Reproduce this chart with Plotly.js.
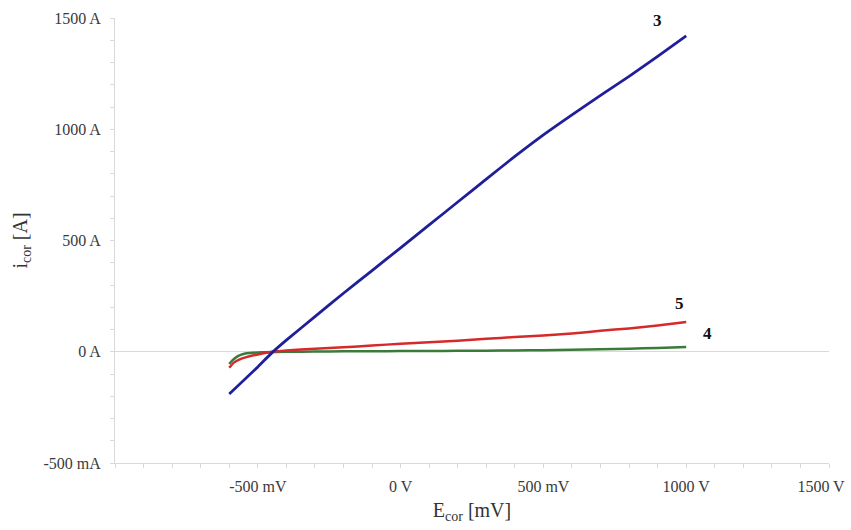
<!DOCTYPE html>
<html>
<head>
<meta charset="utf-8">
<script src="https://cdn.plot.ly/plotly-3.0.1.min.js"></script>
<style>html,body{margin:0;padding:0;background:#fff;}#chart{width:851px;height:530px;}</style>
</head>
<body>
<div id="chart"></div>
<script>
// Potential E_cor [mV]
const potential3 = [-600, -500, -450, -400, -300, -200, -100, 0, 100, 200, 300, 400, 500, 600, 700, 800, 900, 1000];
const current3   = [-190, -68, -4, 52, 158, 263, 365, 467, 570, 673, 776, 878, 975, 1065, 1152, 1238, 1328, 1420];

const potential5 = [-600, -585, -565, -540, -500, -450, -400, -300, -200, -100, 0, 100, 200, 300, 400, 500, 600, 700, 800, 900, 1000];
const current5   = [-72, -50, -35, -24, -12, 0, 6, 14, 20, 28, 36, 43, 50, 58, 66, 73, 82, 94, 105, 118, 134];

const potential4 = [-600, -590, -575, -560, -540, -500, -400, -300, -200, -100, 0, 100, 200, 300, 400, 500, 600, 700, 800, 900, 1000];
const current4   = [-55, -40, -24, -14, -7, -3, 0, 1, 2, 2, 3, 3, 4, 5, 6, 7, 9, 11, 14, 17, 21];

const xTickVals = [-500, 0, 500, 1000, 1500];
const xTickText = ['-500 mV', '0 V', '500 mV', '1000 V', '1500 V\u00A0\u00A0\u00A0\u00A0'];
const yTickVals = [-500, 0, 500, 1000, 1500];
const yTickText = ['-500 mA', '0 A', '500 A', '1000 A', '1500 A'];

const serif = 'Liberation Serif, Times New Roman, serif';

const traces = [
  {x: potential4, y: current4, mode: 'lines', line: {color: '#3a7a3a', width: 2.5, shape: 'spline', smoothing: 0.5}, name: '4'},
  {x: potential5, y: current5, mode: 'lines', line: {color: '#d62a2a', width: 2.5, shape: 'spline', smoothing: 0.5}, name: '5'},
  {x: potential3, y: current3, mode: 'lines', line: {color: '#1f1f9a', width: 2.8, shape: 'spline', smoothing: 0.5}, name: '3'}
];

const layout = {
  width: 851, height: 530,
  margin: {l: 115, r: 22, t: 18, b: 67},
  paper_bgcolor: '#ffffff', plot_bgcolor: '#ffffff',
  showlegend: false,
  font: {family: serif, color: '#3a3a3a', size: 16},
  xaxis: {
    range: [-1000, 1500],
    tickvals: xTickVals, ticktext: xTickText,
    tickfont: {family: serif, size: 16, color: '#3a3a3a'},
    ticklabeloverflow: 'allow',
    showgrid: false, zeroline: false,
    showline: true, linecolor: '#d9d9d9', linewidth: 1,
    ticks: 'outside', ticklen: 4, tickcolor: '#d9d9d9',
    minor: {dtick: 100, tick0: 0, ticks: 'outside', ticklen: 4, tickcolor: '#d9d9d9'},
    ticklabelstandoff: 5,
    title: {text: 'E<sub>cor</sub> [mV]', font: {family: serif, size: 20, color: '#333'}, standoff: 8}
  },
  yaxis: {
    range: [-500, 1500],
    tickvals: yTickVals, ticktext: yTickText,
    tickfont: {family: serif, size: 16, color: '#3a3a3a'},
    showgrid: false,
    zeroline: true, zerolinecolor: '#d9d9d9', zerolinewidth: 1,
    showline: true, linecolor: '#d9d9d9', linewidth: 1,
    ticks: 'outside', ticklen: 4, tickcolor: '#d9d9d9',
    minor: {dtick: 100, tick0: 0, ticks: 'outside', ticklen: 4, tickcolor: '#d9d9d9'},
    ticklabelstandoff: 6,
    title: {text: 'i<sub>cor</sub> [A]', font: {family: serif, size: 20, color: '#333'}, standoff: 10}
  },
  annotations: [
    {x: 901, y: 1490, xref: 'x', yref: 'y', text: '<b>3</b>', showarrow: false, font: {family: serif, size: 17, color: '#111'}},
    {x: 978, y: 219, xref: 'x', yref: 'y', text: '<b>5</b>', showarrow: false, font: {family: serif, size: 17, color: '#111'}},
    {x: 1073, y: 84, xref: 'x', yref: 'y', text: '<b>4</b>', showarrow: false, font: {family: serif, size: 17, color: '#111'}}
  ]
};

Plotly.newPlot('chart', traces, layout, {displayModeBar: false, staticPlot: true});
</script>
</body>
</html>
